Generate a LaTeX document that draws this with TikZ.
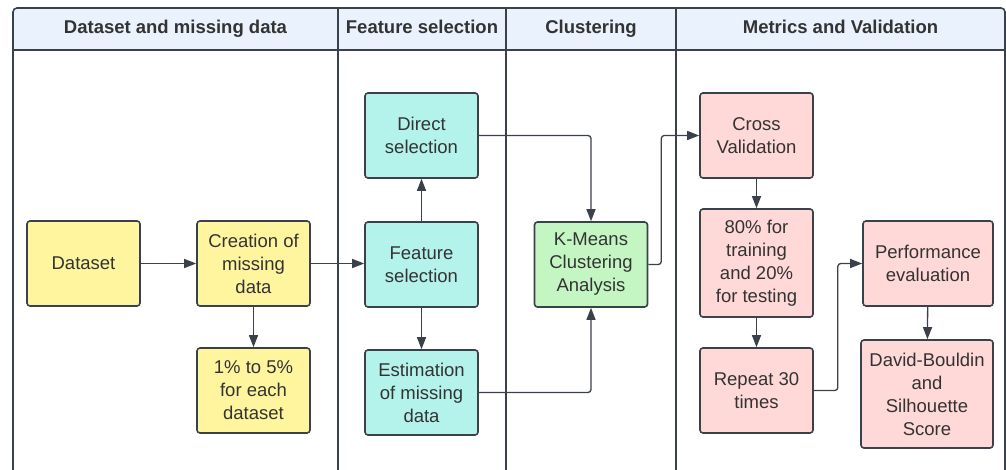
\documentclass[tikz,border=0pt]{standalone}
\usepackage{fontspec}
\setmainfont{Liberation Sans}
\usetikzlibrary{arrows.meta,positioning,calc}
\definecolor{edgegray}{HTML}{3A414A}
\definecolor{headfill}{HTML}{EAF2FD}
\definecolor{yelbox}{HTML}{FFF59E}
\definecolor{tealbox}{HTML}{B4F3EB}
\definecolor{grnbox}{HTML}{C4F6C4}
\definecolor{pnkbox}{HTML}{FFD8D8}
\definecolor{txtgray}{HTML}{333333}

\begin{document}
\begin{tikzpicture}[x=1pt,y=-1pt,
 box/.style={draw=edgegray,line width=1.6pt,rounded corners=3pt,align=center,text=txtgray,
  inner sep=0pt,minimum width=113pt,minimum height=85pt,font=\fontsize{18.5}{23}\selectfont},
 flow/.style={draw=edgegray,line width=1.3pt,rounded corners=3pt,-{Triangle[length=12pt,width=9pt]}},
 head/.style={anchor=base,text=txtgray,font=\fontsize{18.5}{22}\selectfont\bfseries}]
\useasboundingbox (0,0) rectangle (1006,470);
\clip (0,0) rectangle (1006,470);
% swimlane frame
\fill[headfill] (13,50) [rounded corners=4pt]-- (13,8) -- (1005,8) [sharp corners]-- (1005,50) -- cycle;
\draw[edgegray,line width=1.6pt] (13,490) [rounded corners=4pt]-- (13,8) -- (1005,8) [sharp corners]-- (1005,490);
\draw[edgegray,line width=1.6pt] (13,50) -- (1005,50);
\foreach \x in {338,506,676}{
 \draw[edgegray,line width=1.6pt] (\x,8) -- (\x,490);}
\node[head] (hdata) at (175.5,34){Dataset and missing data};
\node[head] (hfeat) at (422,34){Feature selection};
\node[head] (hclus) at (591,34){Clustering};
\node[head] (hmetr) at (840.5,34){Metrics and Validation};
% boxes
\node[box,fill=yelbox] (dset) at (83.5,263.5){Dataset};
\node[box,fill=yelbox] (create) at (253.5,263.5){Creation of\\missing\\data};
\node[box,fill=yelbox] (pct) at (253.5,390.5){1\% to 5\%\\for each\\dataset};
\node[box,fill=tealbox] (direct) at (421.5,135.5){Direct\\selection};
\node[box,fill=tealbox] (fsel) at (421.5,264.5){Feature\\selection};
\node[box,fill=tealbox] (estim) at (421.5,392.5){Estimation\\of missing\\data};
\node[box,fill=grnbox] (kmeans) at (591,264.5){K-Means\\Clustering\\Analysis};
\node[box,fill=pnkbox] (cross) at (756.5,135.5){Cross\\Validation};
\node[box,fill=pnkbox,minimum height=108pt] (split) at (756.5,263){80\% for\\training\\and 20\%\\for testing};
\node[box,fill=pnkbox] (repeat) at (756.5,390.5){Repeat 30\\times};
\node[box,fill=pnkbox,minimum width=130pt] (perf) at (928,263.5){Performance\\evaluation};
\node[box,fill=pnkbox,minimum width=132pt,minimum height=108pt] (dbs) at (927,394){David-Bouldin\\and\\Silhouette\\Score};
% connectors
\draw[flow] (dset) -- (create);
\draw[flow] (create.east) -- (create.east -| fsel.west);
\draw[flow] (create) -- (pct);
\draw[flow] (fsel) -- (direct);
\draw[flow] (fsel) -- (estim);
\draw[flow] (direct.east) -| (kmeans.north);
\draw[flow] (estim.east) -| (kmeans.south);
\draw[flow] (kmeans.east) -- ++(13,0) |- (cross.west);
\draw[flow] (cross) -- (split);
\draw[flow] (split) -- (repeat);
\draw[flow] (repeat.east) -- ++(24,0) |- (perf.west);
\draw[flow] (perf) -- (dbs);
\end{tikzpicture}
\end{document}
